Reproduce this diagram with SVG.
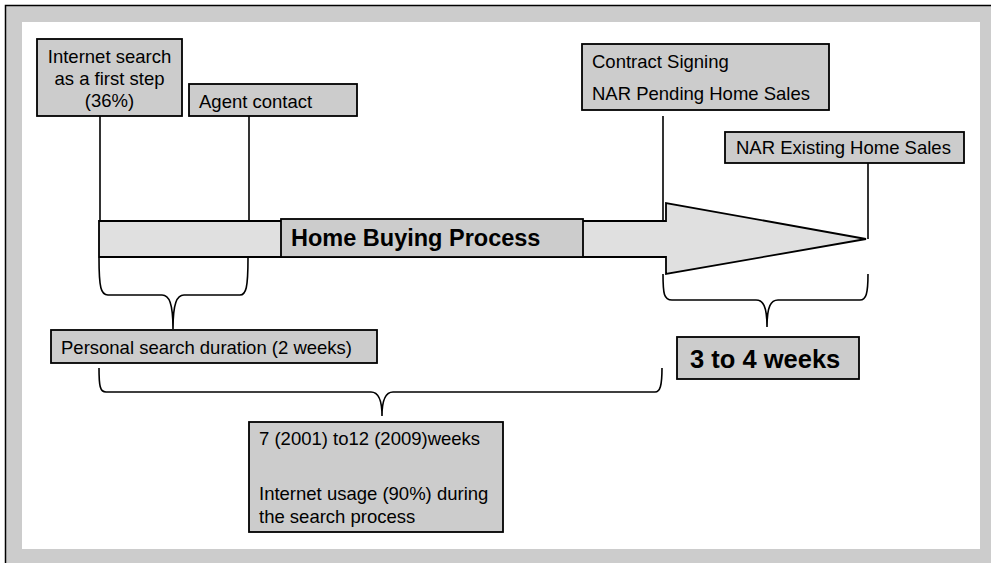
<svg xmlns="http://www.w3.org/2000/svg" width="991" height="563" viewBox="0 0 991 563">
<style>
.box{fill:#cccccc;stroke:#000;stroke-width:1.8}
.t{font-family:"Liberation Sans",Arial,sans-serif;font-size:18.5px;fill:#000}
.b{font-family:"Liberation Sans",Arial,sans-serif;font-weight:bold;fill:#000}
.ln{fill:none;stroke:#000;stroke-width:1.6}
</style>
<rect x="5" y="5" width="990" height="562" fill="#cccccc"/>
<path d="M5.5,563 V5.5 H991" fill="none" stroke="#000" stroke-width="1.5"/>
<rect x="22" y="22" width="958" height="527" fill="#ffffff"/>
<g id="connectors">
<path class="ln" d="M100,116 V221"/>
<path class="ln" d="M249,116 V221"/>
<path class="ln" d="M663,116 V221"/>
<path class="ln" d="M868,163 V239"/>
<path class="ln" d="M99,258 C99,288 101,295 108,295 L162,295 C169,295 173,303 173,329 C173,303 177,295 184,295 L240,295 C246,295 248,288 248,258"/>
<path class="ln" d="M99,368 C99,386 100,392 106,392 L371,392 C378,392 382,398 382,416 C382,398 386,392 393,392 L655,392 C660,392 662,386 662,368"/>
<path class="ln" d="M663,274 C663,294 664,300 672,300 L756,300 C763,300 767,306 767,327 C767,306 771,300 778,300 L860,300 C866,300 868,294 868,274"/>
</g>
<g id="arrow">
<path d="M99,221 H666 V203 L866,239 L666,274 V257 H99 Z" fill="#e0e0e0" stroke="#000" stroke-width="1.8" stroke-linejoin="miter"/>
</g>
<g id="home-buying">
<rect class="box" x="281" y="219" width="302" height="38"/>
<text class="b" x="291" y="246" font-size="23.5px">Home Buying Process</text>
</g>
<g id="internet-search">
<rect class="box" x="37" y="39" width="145" height="77"/>
<text class="t" x="109.5" y="63" text-anchor="middle">Internet search</text>
<text class="t" x="109.5" y="85" text-anchor="middle">as a first step</text>
<text class="t" x="109.5" y="107" text-anchor="middle">(36%)</text>
</g>
<g id="agent-contact">
<rect class="box" x="189" y="84" width="168" height="32"/>
<text class="t" x="199" y="108">Agent contact</text>
</g>
<g id="contract-signing">
<rect class="box" x="582" y="44" width="247" height="66"/>
<text class="t" x="592" y="68">Contract Signing</text>
<text class="t" x="592" y="100">NAR Pending Home Sales</text>
</g>
<g id="existing-sales">
<rect class="box" x="725" y="132" width="239" height="31"/>
<text class="t" x="736" y="154">NAR Existing Home Sales</text>
</g>
<g id="personal-search">
<rect class="box" x="51" y="330" width="326" height="33"/>
<text class="t" x="61" y="354">Personal search duration (2 weeks)</text>
</g>
<g id="three-four-weeks">
<rect class="box" x="677" y="337" width="182" height="42"/>
<text class="b" x="690" y="368" font-size="25.5px">3 to 4 weeks</text>
</g>
<g id="search-weeks">
<rect class="box" x="249" y="422" width="254" height="110"/>
<text class="t" x="259" y="445">7 (2001) to12 (2009)weeks</text>
<text class="t" x="259" y="500">Internet usage (90%) during</text>
<text class="t" x="259" y="523">the search process</text>
</g>
</svg>
